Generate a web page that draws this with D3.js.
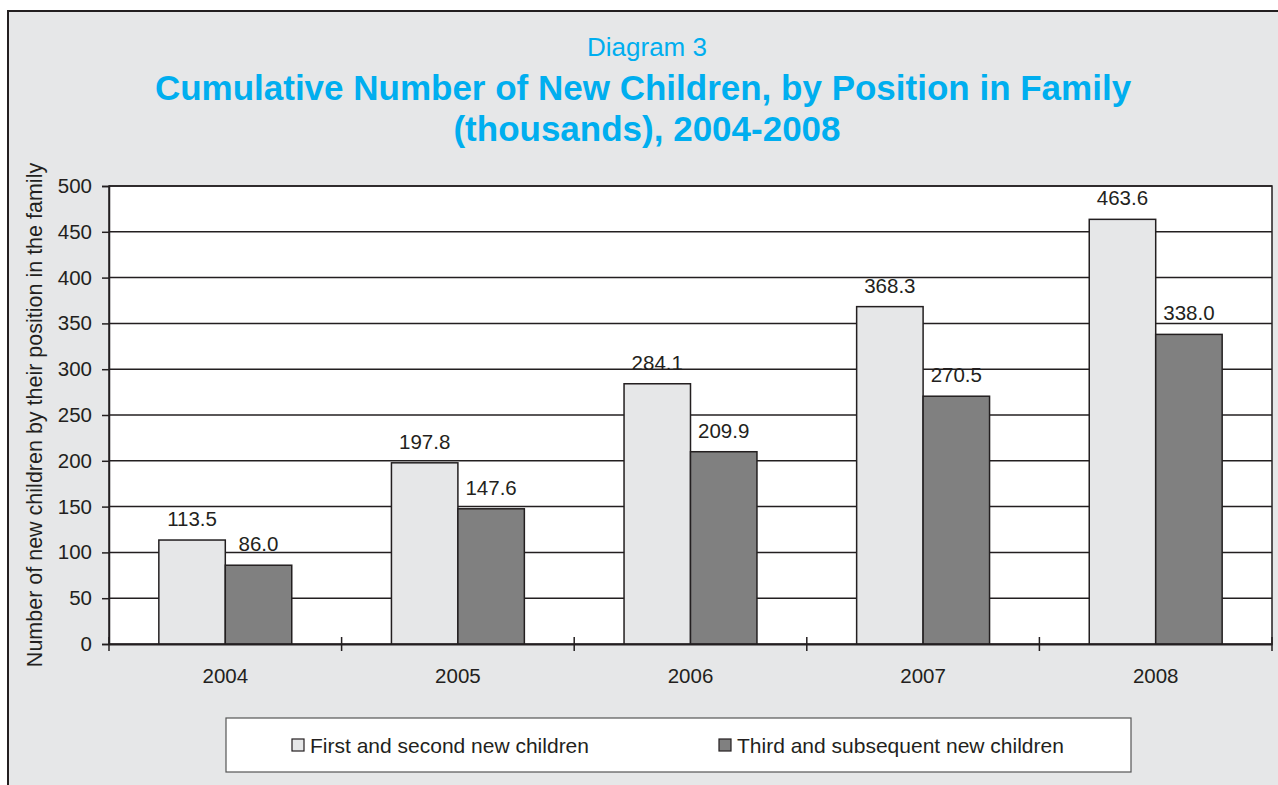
<!DOCTYPE html>
<html>
<head>
<meta charset="utf-8">
<script src="https://cdn.jsdelivr.net/npm/d3@7"></script>
<style>
  body { margin: 0; background: #fff; }
  text { font-family: "Liberation Sans", Arial, sans-serif; fill: #231f20; }
</style>
</head>
<body>
<script>
// data
var years = ["2004", "2005", "2006", "2007", "2008"]
var seriesNames = ["First and second new children", "Third and subsequent new children"]
var firstSecond = [113.5, 197.8, 284.1, 368.3, 463.6]
var thirdPlus = [86.0, 147.6, 209.9, 270.5, 338.0]
var yTicks = [0, 50, 100, 150, 200, 250, 300, 350, 400, 450, 500]
var colors = ["#e6e7e8", "#808080"]

var W = 1278, H = 785
var margin = {top: 186, right: 6, bottom: 141, left: 109}
var width = W - margin.left - margin.right
var height = H - margin.top - margin.bottom

var svg = d3.select("body").append("svg")
    .attr("width", W)
    .attr("height", H)

// outer panel
svg.append("rect")
    .attr("x", 8).attr("y", 11)
    .attr("width", W).attr("height", H)
    .attr("fill", "#e6e7e8")
    .attr("stroke", "#231f20")
    .attr("stroke-width", 2)

// titles
svg.append("text")
    .attr("x", 647).attr("y", 56)
    .attr("text-anchor", "middle")
    .style("font-size", "26px")
    .style("fill", "#00aeef")
    .text("Diagram 3")
svg.append("text")
    .attr("x", 643).attr("y", 100)
    .attr("text-anchor", "middle")
    .style("font-size", "35px").style("font-weight", "bold")
    .style("fill", "#00aeef")
    .text("Cumulative Number of New Children, by Position in Family")
svg.append("text")
    .attr("x", 647).attr("y", 141)
    .attr("text-anchor", "middle")
    .style("font-size", "35px").style("font-weight", "bold")
    .style("fill", "#00aeef")
    .text("(thousands), 2004-2008")

var g = svg.append("g")
    .attr("transform", "translate(" + margin.left + "," + margin.top + ")")

//Scales
var x = d3.scaleBand().domain(years).range([0, width]).paddingInner(0).paddingOuter(0)
var x1 = d3.scaleBand().domain([0, 1]).range([0, x.bandwidth()]).paddingInner(0).paddingOuter(0.75)
var y = d3.scaleLinear().domain([0, 500]).range([height, 0])

g.append("rect")
    .attr("width", width).attr("height", height)
    .attr("fill", "#fff")
    .attr("stroke", "#231f20")
    .attr("stroke-width", 1.5)

// gridlines
g.selectAll(".grid")
    .data(yTicks.slice(1))
    .enter().append("line")
    .attr("class", "grid")
    .attr("x1", 0).attr("x2", width)
    .attr("y1", d => y(d)).attr("y2", d => y(d))
    .attr("stroke", "#231f20")
    .attr("stroke-width", 1.5)

// bars
var rows = years.map(function(yr, i) { return {year: yr, values: [firstSecond[i], thirdPlus[i]]} })

var groups = g.selectAll(".yr")
    .data(rows)
    .enter().append("g")
    .attr("transform", d => "translate(" + x(d.year) + ",0)")

groups.selectAll("rect")
    .data(d => d.values.map(function(v, k) { return {k: k, v: v} }))
    .enter().append("rect")
    .attr("x", d => x1(d.k))
    .attr("width", x1.bandwidth())
    .attr("y", d => y(d.v))
    .attr("height", d => height - y(d.v))
    .attr("fill", d => colors[d.k])
    .attr("stroke", "#231f20")
    .attr("stroke-width", 1.5)

groups.selectAll(".lbl")
    .data(d => d.values.map(function(v, k) { return {k: k, v: v} }))
    .enter().append("text")
    .attr("class", "lbl")
    .attr("x", d => x1(d.k) + x1.bandwidth() / 2)
    .attr("y", d => y(d.v) - 14)
    .attr("text-anchor", "middle")
    .style("font-size", "20.5px")
    .text(d => d.v.toFixed(1))

// y axis
var yAxis = g.append("g")
    .call(d3.axisLeft(y).tickValues(yTicks).tickSize(7).tickPadding(10))
yAxis.select(".domain").attr("stroke", "#231f20").attr("stroke-width", 1.5)
yAxis.selectAll(".tick line").attr("stroke", "#231f20").attr("stroke-width", 1.5)
yAxis.selectAll("text").style("font-size", "20.5px").style("fill", "#231f20")
    .style("font-family", "'Liberation Sans', Arial, sans-serif")

// x axis
var xAxis = g.append("g")
    .attr("transform", "translate(0," + height + ")")
    .call(d3.axisBottom(x).tickSize(0).tickPadding(24))
xAxis.select(".domain").attr("stroke", "#231f20").attr("stroke-width", 2)
xAxis.selectAll("text").style("font-size", "20.5px").style("fill", "#231f20")
    .style("font-family", "'Liberation Sans', Arial, sans-serif")

g.selectAll(".xtick")
    .data(years.concat(["end"]))
    .enter().append("line")
    .attr("class", "xtick")
    .attr("x1", (d, i) => i * x.step()).attr("x2", (d, i) => i * x.step())
    .attr("y1", height - 7).attr("y2", height + 7)
    .attr("stroke", "#231f20")
    .attr("stroke-width", 1.5)

// y label
svg.append("text")
    .attr("transform", "translate(42," + (margin.top + height / 2) + ") rotate(-90)")
    .attr("text-anchor", "middle")
    .style("font-size", "21.5px")
    .text("Number of new children by their position in the family")

// legend
var legend = svg.append("g")
legend.append("rect")
    .attr("x", 226).attr("y", 718)
    .attr("width", 905).attr("height", 54)
    .attr("fill", "#fff")
    .attr("stroke", "#555")
    .attr("stroke-width", 1.2)

var legendX = [292, 719]
seriesNames.forEach(function(name, i) {
    legend.append("rect")
        .attr("x", legendX[i]).attr("y", 739)
        .attr("width", 12).attr("height", 12)
        .attr("fill", colors[i])
        .attr("stroke", "#231f20")
        .attr("stroke-width", 1.2)
    legend.append("text")
        .attr("x", legendX[i] + 18).attr("y", 753)
        .style("font-size", "21px")
        .text(name)
})
</script>
</body>
</html>
